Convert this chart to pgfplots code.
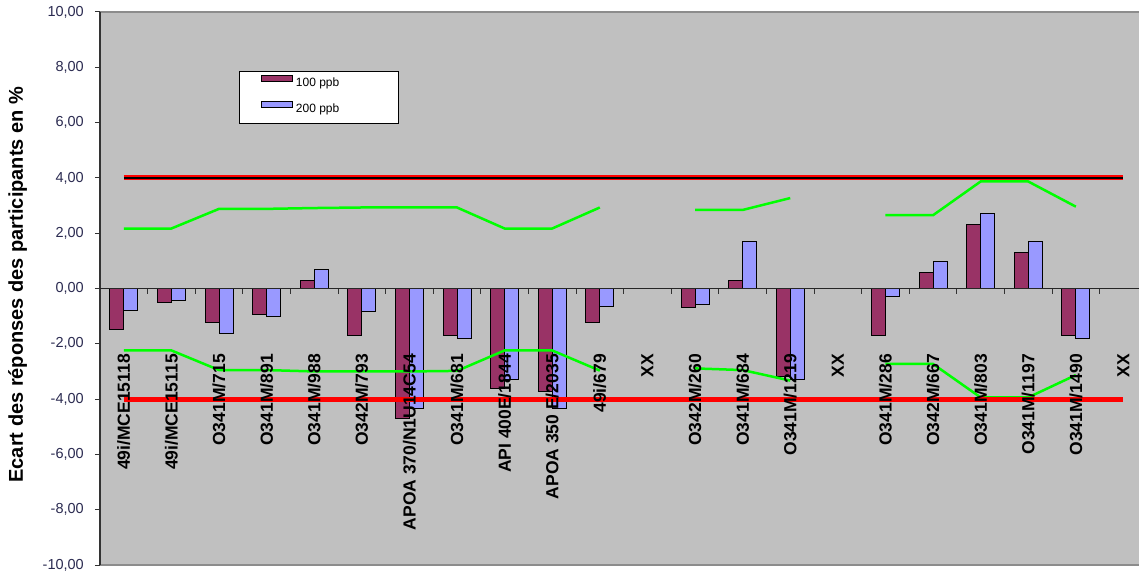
\documentclass[border=0pt]{standalone}
\usepackage{pgfplots}
\pgfplotsset{compat=1.18}
\usepackage{fontspec}
\setmainfont{Liberation Sans}
\definecolor{barA}{HTML}{993366}
\definecolor{barB}{HTML}{9999FF}
\definecolor{bgc}{HTML}{C0C0C0}
\definecolor{tickc}{HTML}{2A2A50}
\definecolor{grn}{HTML}{00FF00}
\begin{document}
\begin{tikzpicture}
\begin{axis}[
  name=ax,
  scale only axis, width=1039pt, height=553pt,
  xmin=-0.5, xmax=21.327, ymin=-10, ymax=10,
  axis background/.style={fill=bgc},
  axis on top,
  axis x line*=box, axis y line*=left,
  x axis line style={draw=black!45, line width=1.5pt},
  y axis line style={draw=black!80, line width=1.3pt},
  unbounded coords=jump,
  ytick={-10,-8,...,10},
  tick align=outside,
  major tick length=5pt,
  ytick style={draw=black!80, line width=1pt},
  xtick style={draw=none},
  yticklabel style={inner xsep=0pt, xshift=-11pt, font=\fontsize{14.5}{14.5}\selectfont, text=tickc},
  /pgf/number format/.cd, fixed, fixed zerofill, precision=2, use comma, assume math mode=true,
  /pgfplots/.cd,
  xtick={0,...,21},
  xticklabels={49i/MCE15118, 49i/MCE15115, O341M/715, O341M/891, O341M/988, O342M/793, APOA 370/N1U14C54, O341M/681, API 400E/1844, APOA 350 E/2035, 49i/679, XX, O342M/260, O341M/684, O341M/1219, XX, O341M/286, O342M/667, O341M/803, O341M/1197, O341M/1490, XX},
  xticklabel style={yshift=216pt, rotate=90, anchor=east, inner xsep=0pt, font=\fontsize{17.5}{17.5}\selectfont\bfseries},
  extra y ticks={0}, extra y tick labels={},
  extra y tick style={grid=major, major grid style={draw=black!85, line width=1.2pt}},
  every axis y label/.style={at={(axis description cs:-0.0794,0.507)}, rotate=90, anchor=center, font=\fontsize{20}{20}\selectfont\bfseries},
  ylabel={Ecart des réponses des participants en \%},
  legend style={at={(0.1338,0.8933)}, anchor=north west, draw=black, line width=1pt, fill=white,
    inner xsep=0pt, inner ysep=0pt, row sep=0pt,
    nodes={inner xsep=3pt, inner ysep=0pt, font=\fontsize{12}{12}\selectfont}},
  legend cell align=left,
]
\pgfplotsinvokeforeach{0.5,1.5,2.5,3.5,4.5,5.5,6.5,7.5,8.5,9.5,10.5,11.5,12.5,13.5,14.5,15.5,16.5,17.5,18.5,19.5,20.5}{
  \draw[black!80, line width=1pt] (axis cs:#1,0) -- ++(0pt,-5pt);
}
\addplot[ybar, bar width=14pt, bar shift=-7pt, fill=barA, draw=black, line width=0.8pt,
  legend image code/.code={\path[draw=none,fill=none] (0pt,-15pt) -- (0pt,11pt); \draw[fill=barA, draw=black, line width=0.8pt] (22pt,1pt) rectangle (53pt,7pt);}]
  coordinates {(0,-1.49) (1,-0.52) (2,-1.23) (3,-0.92) (4,0.28) (5,-1.71) (6,-4.71) (7,-1.71) (8,-3.62) (9,-3.71) (10,-1.23)
   (12,-0.70) (13,0.28) (14,-3.19) (16,-1.71) (17,0.59) (18,2.33) (19,1.31) (20,-1.71)};
\addlegendentry{\makebox[100pt][l]{100 ppb}}
\addplot[ybar, bar width=14pt, bar shift=7pt, fill=barB, draw=black, line width=0.8pt,
  legend image code/.code={\path[draw=none,fill=none] (0pt,-15pt) -- (0pt,11pt); \draw[fill=barB, draw=black, line width=0.8pt] (22pt,1pt) rectangle (53pt,7pt);}]
  coordinates {(0,-0.78) (1,-0.42) (2,-1.63) (3,-1.00) (4,0.69) (5,-0.84) (6,-4.33) (7,-1.81) (8,-3.30) (9,-4.33) (10,-0.64)
   (12,-0.57) (13,1.71) (14,-3.30) (16,-0.28) (17,0.99) (18,2.73) (19,1.71) (20,-1.81)};
\addlegendentry{\makebox[100pt][l]{200 ppb}}
\addplot[grn, line width=2.5pt, mark=none, forget plot] coordinates {
  (0,2.17) (1,2.17) (2,2.88) (3,2.88) (4,2.91) (5,2.93) (6,2.93) (7,2.93) (8,2.17) (9,2.17) (10,2.93) (11,nan)
  (12,2.84) (13,2.84) (14,3.27) (15,nan) (16,2.65) (17,2.65) (18,3.87) (19,3.87) (20,2.96)};
\addplot[grn, line width=2.5pt, mark=none, forget plot] coordinates {
  (0,-2.24) (1,-2.24) (2,-2.95) (3,-2.95) (4,-3.0) (5,-3.0) (6,-3.0) (7,-2.98) (8,-2.24) (9,-2.24) (10,-2.97) (11,nan)
  (12,-2.89) (13,-2.95) (14,-3.33) (15,nan) (16,-2.73) (17,-2.73) (18,-3.94) (19,-3.94) (20,-3.13)};
\addplot[red, line width=5pt, forget plot] coordinates {(0,4) (21,4)};
\addplot[black, line width=1.5pt, forget plot] coordinates {(0,4) (21,4)};
\addplot[red, line width=5pt, forget plot] coordinates {(0,-4) (21,-4)};
\end{axis}
\pgfresetboundingbox
\path[use as bounding box] ([xshift=-100pt,yshift=-9pt]ax.south west) rectangle ([yshift=12pt]ax.north east);
\end{tikzpicture}
\end{document}
